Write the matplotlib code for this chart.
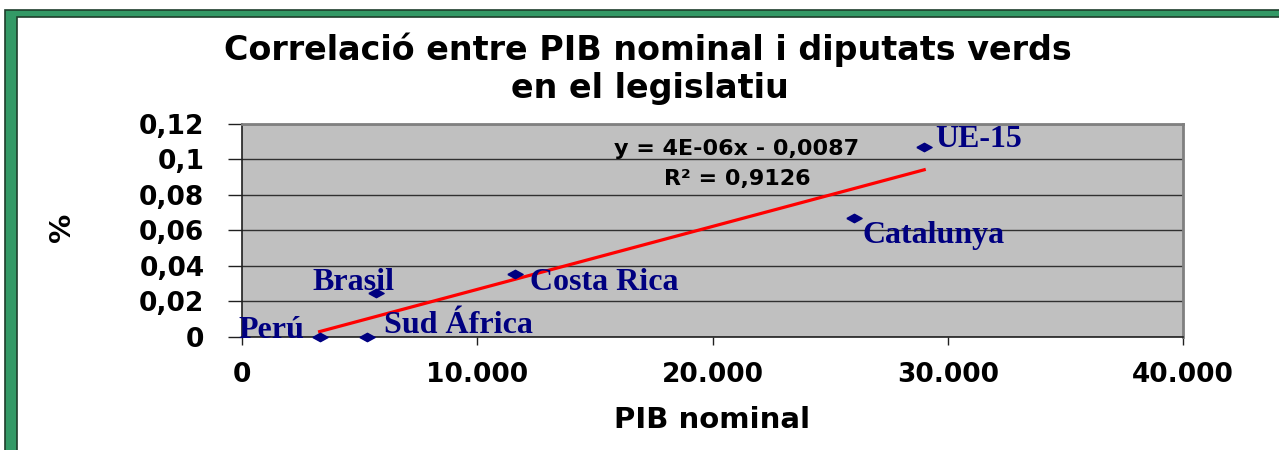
import numpy as np
import matplotlib
matplotlib.use("Agg")
import matplotlib.pyplot as plt
from matplotlib.patches import Rectangle

# ─── DATA ─────────────────────────────────────────────────────────────────────

COUNTRIES = ["Perú", "Sud África", "Brasil", "Costa Rica", "Catalunya", "UE-15"]
PIB_NOMINAL = [3300, 5300, 5700, 11600, 26000, 29000]
DIPUTATS_VERDS = [0.0, 0.0, 0.025, 0.0355, 0.067, 0.107]

X_TICKS = [0, 10000, 20000, 30000, 40000]
X_TICK_LABELS = ["0", "10.000", "20.000", "30.000", "40.000"]
Y_TICKS = [0, 0.02, 0.04, 0.06, 0.08, 0.10, 0.12]
Y_TICK_LABELS = ["0", "0,02", "0,04", "0,06", "0,08", "0,1", "0,12"]

TITLE_1 = "Correlació entre PIB nominal i diputats verds"
TITLE_2 = "en el legislatiu"
EQUATION = "y = 4E-06x - 0,0087"
R2_TEXT = "R² = 0,9126"

# label placement (pixel offsets from marker, ha)
LABEL_OFFSETS = [(-15, -1, "right"), (17, 4, "left"), (-64, 3, "left"),
                 (15, -16, "left"), (9, -25, "left"), (11, 0, "left")]

# ─── STYLE ────────────────────────────────────────────────────────────────────

W, H = 1279, 450
NAVY = "#000080"
GREEN = "#339966"
SANS = "DejaVu Sans"
SERIF = "Liberation Serif"

fig = plt.figure(figsize=(W / 100, H / 100), dpi=100, facecolor="white")

# green frame (runs off the right and bottom edges)
fig.patches.append(Rectangle((5 / W, -0.2), 1.3, (H - 10) / H + 0.2,
                             transform=fig.transFigure, facecolor=GREEN,
                             edgecolor="#1f3d2c", lw=1.2, zorder=-10))
fig.patches.append(Rectangle((16.5 / W, -0.2), 1.3, (H - 16.5) / H + 0.2,
                             transform=fig.transFigure, facecolor="white",
                             edgecolor="#1f3d2c", lw=1.2, zorder=-9))

ax = fig.add_axes([242 / W, (H - 337) / H, 941 / W, 213.5 / H])
ax.set_zorder(2)
ax.set_facecolor("#C0C0C0")

ax.set_xlim(0, 40000)
ax.set_ylim(0, 0.12)
ax.set_xticks(X_TICKS)
ax.set_xticklabels(X_TICK_LABELS, fontsize=19, fontweight="bold", family=SANS)
ax.set_yticks(Y_TICKS)
ax.set_yticklabels(Y_TICK_LABELS, fontsize=19, fontweight="bold", family=SANS)
ax.tick_params(axis="y", length=10, width=1, pad=17, color="#202020")
ax.tick_params(axis="x", length=6, width=1, pad=12, color="#202020")

ax.grid(axis="y", color="#303030", lw=1)
ax.set_axisbelow(True)
for side in ("top", "right"):
    ax.spines[side].set_color("#808080")
    ax.spines[side].set_linewidth(2)
for side in ("left", "bottom"):
    ax.spines[side].set_color("#202020")
    ax.spines[side].set_linewidth(1.2)

# trend line (least squares over data range)
x = np.array(PIB_NOMINAL, dtype=float)
y = np.array(DIPUTATS_VERDS)
slope, intercept = np.polyfit(x, y, 1)
xs = np.array([x.min(), x.max()])
ax.plot(xs, slope * xs + intercept, color="red", lw=2.3, zorder=3, clip_on=False)

# points
diamond = [(-1, 0), (0, 0.55), (1, 0), (0, -0.55), (-1, 0)]
ax.plot(x, y, ls="none", marker=diamond, markersize=11, color=NAVY,
        zorder=4, clip_on=False)

for name, px, py, (dx, dy, ha) in zip(COUNTRIES, x, y, LABEL_OFFSETS):
    ax.annotate(name, (px, py), xytext=(dx, dy), textcoords="offset pixels",
                ha=ha, va="baseline", color=NAVY, fontsize=23,
                fontweight="bold", family=SERIF, zorder=5)

ax.text(0.526, 0.852, EQUATION, transform=ax.transAxes, ha="center",
        va="baseline", fontsize=16, fontweight="bold", family=SANS)
ax.text(0.526, 0.712, R2_TEXT, transform=ax.transAxes, ha="center",
        va="baseline", fontsize=16, fontweight="bold", family=SANS)

ax.set_xlabel("PIB nominal", fontsize=21, fontweight="bold", family=SANS)
ax.xaxis.set_label_coords(0.5, -0.325)
ax.set_ylabel("%", fontsize=21, fontweight="bold", family=SANS)
ax.yaxis.set_label_coords(-0.176, 0.515)

fig.text(648 / W, 1 - 60 / H, TITLE_1, ha="center", va="baseline",
         fontsize=24, fontweight="bold", family=SANS)
fig.text(650 / W, 1 - 98 / H, TITLE_2, ha="center", va="baseline",
         fontsize=24, fontweight="bold", family=SANS)

fig.savefig("out.png", dpi=100, facecolor="white")
